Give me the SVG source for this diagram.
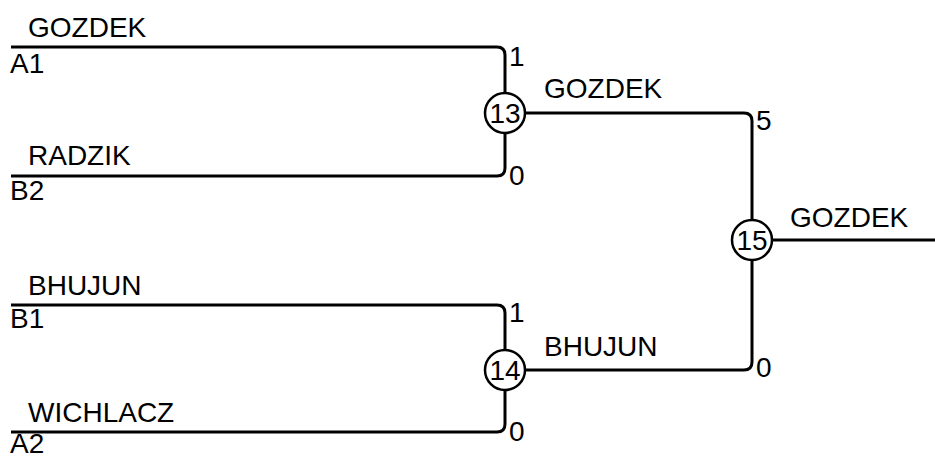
<svg xmlns="http://www.w3.org/2000/svg" width="935" height="459" viewBox="0 0 935 459">
<style>
.ln{fill:none;stroke:#000;stroke-width:3}
.c{fill:#fff;stroke:#000;stroke-width:2.5}
text{font-family:"Liberation Sans",Arial,sans-serif;font-size:28px;fill:#000}
.m{text-anchor:middle}
</style>
<rect width="935" height="459" fill="#fff"/>
<g id="connectors">
<path class="ln" d="M11,47 H497 Q505,47 505,55 V93"/>
<path class="ln" d="M11,176 H497 Q505,176 505,168 V133"/>
<path class="ln" d="M525,113 H744 Q752,113 752,121 V220"/>
<path class="ln" d="M11,305 H497 Q505,305 505,313 V350"/>
<path class="ln" d="M11,432 H497 Q505,432 505,424 V390"/>
<path class="ln" d="M525,370 H744 Q752,370 752,362 V260"/>
<path class="ln" d="M772,240 H935"/>
</g>
<g id="labels">
<text x="28" y="37">GOZDEK</text>
<text x="10" y="73">A1</text>
<text x="28" y="165">RADZIK</text>
<text x="10" y="200">B2</text>
<text x="28" y="295">BHUJUN</text>
<text x="10" y="328">B1</text>
<text x="28" y="422">WICHLACZ</text>
<text x="10" y="453">A2</text>
<text x="509" y="66">1</text>
<text x="509" y="185">0</text>
<text x="509" y="322">1</text>
<text x="509" y="441">0</text>
<text x="544" y="98">GOZDEK</text>
<text x="544" y="356">BHUJUN</text>
<text x="756" y="130">5</text>
<text x="756" y="377">0</text>
<text x="790" y="227">GOZDEK</text>
</g>
<g id="node13"><circle class="c" cx="505" cy="113" r="20"/><text class="m" x="505" y="123">13</text></g>
<g id="node14"><circle class="c" cx="505" cy="370" r="20"/><text class="m" x="505" y="380">14</text></g>
<g id="node15"><circle class="c" cx="752" cy="240" r="20"/><text class="m" x="752" y="250">15</text></g>
</svg>
